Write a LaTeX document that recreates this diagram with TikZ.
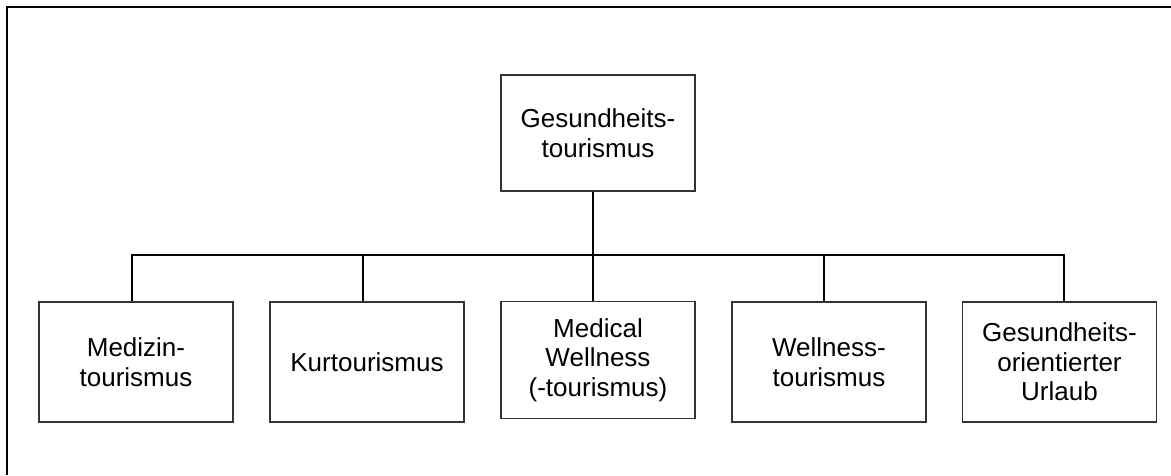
\documentclass[tikz,border=0pt]{standalone}
\usepackage{fontspec}
\setmainfont{Liberation Sans}
\usepackage{tikz}

\begin{document}
\begin{tikzpicture}
						\tikzstyle{box} = [rectangle,draw=black!80,line width=0.4pt,fill=white,minimum width=1.94cm,align=center,font=\fontsize{7.4}{8.4}\selectfont]
						\tikzstyle{edge} = [-,line width=0.6pt]
						\useasboundingbox (0,0) rectangle (11.71,4.75);
						\draw[line width=0.75pt] (0.07,0) -- (0.07,4.68) -- (11.71,4.68);
						\node[box,minimum height=1.16cm] (top) at (5.98,3.42) {Gesundheits-\\tourismus};
						\node[box,minimum height=1.2cm] (n1) at (1.36,1.13) {Medizin-\\tourismus};
						\node[box,minimum height=1.2cm] (n2) at (3.67,1.13) {Kurtourismus};
						\node[box,minimum height=1.17cm] (n3) at (5.98,1.15) {Medical\\Wellness\\(-tourismus)};
						\node[box,minimum height=1.2cm] (n4) at (8.29,1.13) {Wellness-\\tourismus};
						\node[box,minimum height=1.2cm] (n5) at (10.595,1.13) {Gesundheits-\\orientierter\\Urlaub};
						\coordinate (bus) at (5.93,2.20);
						\draw[edge] (top.south -| bus) -- (bus);
						\draw[edge] (bus) -| ([xshift=-0.04cm]n1.north);
						\draw[edge] (bus) -| ([xshift=-0.04cm]n2.north);
						\draw[edge] (bus) -- (bus |- n3.north);
						\draw[edge] (bus) -| ([xshift=-0.05cm]n4.north);
						\draw[edge] (bus) -| ([xshift=0.045cm]n5.north);
						\end{tikzpicture}
\end{document}
